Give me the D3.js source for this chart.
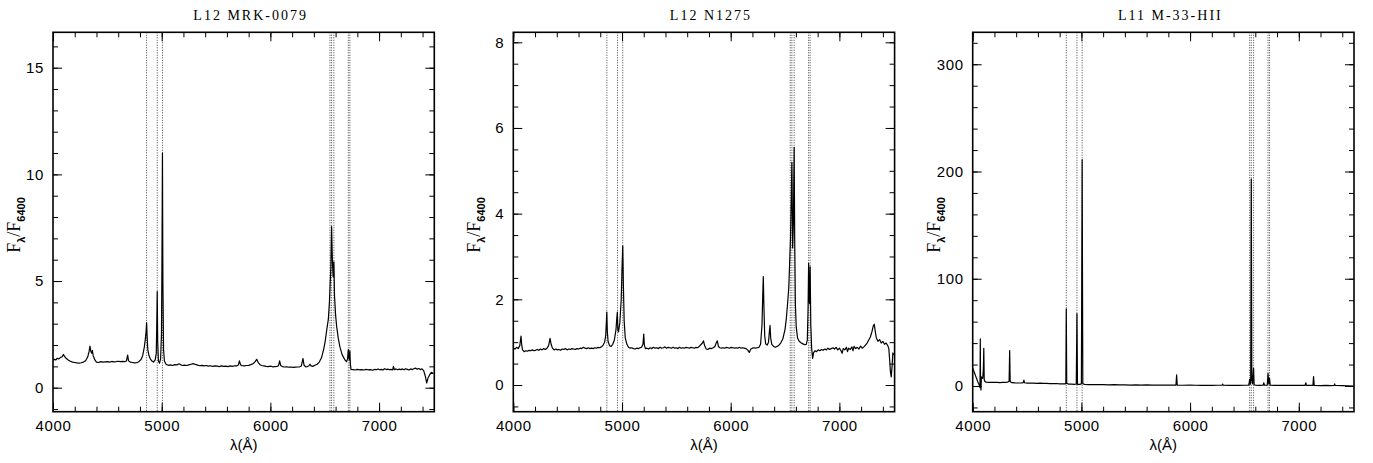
<!DOCTYPE html>
<html>
<head>
<meta charset="utf-8">
<script src="https://cdn.jsdelivr.net/npm/d3@7"></script>
<style>
    body { margin: 0; background: #fff; }
    svg { display: block; }
    .tick text { font-family: "Liberation Sans", Arial, sans-serif; font-size: 15px; letter-spacing: 0.6px; fill: #000; }
    .tick line { stroke: #000; stroke-width: 1; }
    .frame { fill: none; stroke: #000; stroke-width: 1.6; }
    .spec { fill: none; stroke: #000; stroke-width: 1.2; stroke-linejoin: round; }
    .lineMark { stroke: #444; stroke-width: 1; stroke-dasharray: 1, 1.5; }
    .title { font-family: "Liberation Serif", serif; font-size: 14px; letter-spacing: 2px; fill: #000; }
    .xlabel { font-family: "Liberation Sans", Arial, sans-serif; font-size: 15px; fill: #000; }
    .ylabel { font-family: "Liberation Serif", serif; font-size: 18px; fill: #000; }
    .ylabel .sub { font-family: "Liberation Sans", Arial, sans-serif; font-size: 11px; font-weight: bold; }
</style>
</head>
<body>
<script>
(function () {

    // panel titles and emission line positions (Angstrom)
    var titles = ["L12 MRK-0079", "L12 N1275", "L11 M-33-HII"];
    var lineWaves = [4861, 4959, 5007, 6548, 6563, 6584, 6717, 6731];

    var xMajorTicks = [4000, 5000, 6000, 7000];
    var yMajorTicks = [[0, 5, 10, 15], [0, 2, 4, 6, 8], [0, 100, 200, 300]];
    var yMinorStep = [1, 0.5, 20];

    // spectra: [wavelength, F_lambda/F_6400]
    var specMrk = [
        [4000,1.29],[4012,1.33],[4025,1.30],[4040,1.38],[4055,1.35],[4070,1.42],[4085,1.45],[4095,1.56],[4105,1.48],
        [4120,1.38],[4140,1.30],[4160,1.24],[4180,1.20],[4200,1.18],[4220,1.16],[4240,1.15],[4260,1.17],[4280,1.20],
        [4300,1.26],[4320,1.45],[4332,1.70],[4340,1.95],[4348,1.70],[4356,1.62],[4362,1.75],[4370,1.50],[4385,1.30],
        [4400,1.20],[4420,1.18],[4440,1.22],[4460,1.20],[4480,1.21],[4500,1.22],[4520,1.20],[4540,1.23],[4560,1.21],
        [4580,1.22],[4600,1.24],[4620,1.22],[4640,1.23],[4660,1.22],[4675,1.25],[4687,1.53],[4695,1.26],[4710,1.20],
        [4730,1.18],[4750,1.16],[4770,1.17],[4790,1.22],[4810,1.32],[4825,1.50],[4840,1.90],[4850,2.30],[4856,2.60],
        [4861,3.04],[4866,2.40],[4872,1.80],[4882,1.52],[4895,1.35],[4910,1.25],[4925,1.20],[4940,1.30],[4950,1.60],
        [4955,3.00],[4959,4.50],[4963,2.20],[4970,1.25],[4980,1.15],[4990,1.35],[4998,2.50],[5003,6.50],[5007,11.0],
        [5011,5.00],[5017,1.80],[5025,1.25],[5040,1.10],[5060,1.05],[5080,1.07],[5100,1.04],[5120,1.08],[5140,1.07],
        [5160,1.12],[5175,1.08],[5190,1.04],[5210,1.06],[5230,1.04],[5250,1.07],[5270,1.10],[5290,1.13],[5310,1.09],
        [5330,1.06],[5350,1.03],[5370,1.05],[5390,1.02],[5410,1.04],[5430,1.01],[5450,1.03],[5470,1.00],[5490,1.02],
        [5510,1.01],[5530,0.99],[5550,1.02],[5570,1.00],[5590,1.01],[5610,0.99],[5630,1.02],[5650,1.00],[5670,1.03],
        [5690,1.02],[5705,1.06],[5715,1.26],[5725,1.08],[5740,1.03],[5760,1.02],[5780,1.04],[5800,1.05],[5820,1.08],
        [5840,1.12],[5860,1.22],[5874,1.33],[5888,1.18],[5905,1.08],[5920,1.04],[5940,1.02],[5960,1.00],[5980,0.99],
        [6000,1.01],[6020,0.98],[6040,0.99],[6060,1.00],[6075,1.03],[6085,1.26],[6095,1.04],[6110,0.99],[6130,0.97],
        [6150,0.98],[6170,0.96],[6190,0.97],[6210,0.95],[6230,0.96],[6250,0.97],[6270,0.98],[6285,1.02],[6300,1.37],
        [6310,1.05],[6325,0.98],[6340,0.99],[6355,1.03],[6365,1.10],[6375,1.02],[6390,1.00],[6410,1.05],[6430,1.10],
        [6450,1.20],[6470,1.40],[6490,1.80],[6505,2.20],[6518,2.70],[6533,3.20],[6543,4.00],[6550,4.90],[6556,5.60],
        [6563,7.55],[6570,6.00],[6577,5.20],[6584,5.90],[6590,4.30],[6600,3.40],[6610,2.85],[6625,2.30],[6640,1.90],
        [6660,1.55],[6686,1.30],[6700,1.22],[6710,1.35],[6717,1.79],[6722,1.40],[6727,1.30],[6731,1.73],[6736,1.10],
        [6742,0.86],[6760,0.85],[6780,0.83],[6800,0.86],[6820,0.84],[6840,0.85],[6860,0.83],[6880,0.86],[6900,0.84],
        [6920,0.85],[6940,0.82],[6960,0.86],[6975,0.84],[6990,0.88],[7005,0.84],[7020,0.86],[7035,0.83],[7050,0.89],
        [7065,0.85],[7080,0.87],[7095,0.84],[7110,0.86],[7125,0.83],[7132,1.00],[7140,0.85],[7155,0.88],[7170,0.84],
        [7185,0.87],[7200,0.85],[7215,0.88],[7230,0.84],[7245,0.89],[7260,0.86],[7275,0.83],[7290,0.88],[7305,0.85],
        [7320,0.89],[7335,0.92],[7350,0.87],[7365,0.90],[7380,0.85],[7395,0.88],[7410,0.80],[7425,0.55],[7438,0.22],
        [7450,0.45],[7465,0.60],[7480,0.72],[7500,0.66]
    ];

    var specN1275 = [
        [4000,0.86],[4015,0.84],[4030,0.88],[4045,0.85],[4060,0.92],[4066,1.05],[4071,1.14],[4077,0.95],[4085,0.82],
        [4100,0.78],[4115,0.80],[4130,0.79],[4145,0.81],[4160,0.80],[4175,0.82],[4190,0.80],[4205,0.81],[4220,0.83],
        [4235,0.81],[4250,0.84],[4265,0.82],[4280,0.85],[4295,0.83],[4310,0.86],[4325,0.92],[4338,1.09],[4348,0.95],
        [4360,0.86],[4375,0.82],[4390,0.84],[4405,0.82],[4420,0.83],[4435,0.81],[4450,0.84],[4465,0.83],[4480,0.85],
        [4495,0.82],[4510,0.84],[4525,0.83],[4540,0.85],[4555,0.84],[4570,0.83],[4585,0.85],[4600,0.84],[4615,0.86],
        [4630,0.85],[4645,0.88],[4660,0.86],[4675,0.85],[4690,0.87],[4705,0.85],[4720,0.86],[4735,0.85],[4750,0.87],
        [4765,0.86],[4780,0.88],[4795,0.87],[4810,0.89],[4825,0.92],[4840,1.00],[4850,1.15],[4856,1.45],[4860,1.70],
        [4865,1.25],[4872,1.02],[4885,0.92],[4900,0.90],[4915,0.95],[4930,1.05],[4945,1.30],[4952,1.55],[4957,1.70],
        [4962,1.30],[4968,1.24],[4980,1.45],[4993,2.00],[5001,2.80],[5007,3.25],[5013,2.30],[5020,1.50],[5030,1.10],
        [5045,0.95],[5060,0.88],[5075,0.86],[5090,0.87],[5105,0.85],[5120,0.84],[5135,0.86],[5150,0.85],[5165,0.87],
        [5180,0.88],[5193,0.95],[5200,1.19],[5206,0.93],[5215,0.85],[5230,0.86],[5245,0.84],[5260,0.87],[5275,0.85],
        [5290,0.88],[5305,0.86],[5320,0.87],[5335,0.85],[5350,0.88],[5365,0.86],[5380,0.87],[5395,0.89],[5410,0.86],
        [5425,0.88],[5440,0.87],[5455,0.86],[5470,0.88],[5485,0.86],[5500,0.87],[5515,0.85],[5530,0.88],[5545,0.86],
        [5560,0.87],[5575,0.86],[5590,0.88],[5605,0.87],[5620,0.86],[5635,0.88],[5650,0.87],[5665,0.86],[5680,0.88],
        [5695,0.87],[5710,0.90],[5725,0.94],[5740,0.98],[5750,1.03],[5760,0.92],[5775,0.84],[5790,0.83],[5805,0.86],
        [5820,0.85],[5840,0.87],[5855,0.90],[5868,0.99],[5877,1.03],[5887,0.90],[5900,0.87],[5915,0.86],[5930,0.87],
        [5945,0.86],[5960,0.88],[5975,0.87],[5990,0.86],[6005,0.88],[6020,0.87],[6035,0.86],[6050,0.87],[6065,0.86],
        [6080,0.88],[6095,0.86],[6110,0.87],[6125,0.86],[6140,0.85],[6155,0.82],[6171,0.76],[6185,0.84],[6200,0.86],
        [6215,0.87],[6230,0.86],[6245,0.87],[6260,0.88],[6275,0.95],[6288,1.40],[6295,2.10],[6300,2.53],[6306,1.80],
        [6313,1.15],[6322,0.96],[6335,0.93],[6348,1.00],[6356,1.25],[6362,1.39],[6368,1.10],[6378,0.95],[6395,0.90],
        [6410,0.88],[6425,0.90],[6440,0.92],[6460,0.98],[6480,1.08],[6500,1.30],[6512,1.55],[6525,1.95],[6535,2.30],
        [6543,2.90],[6550,3.40],[6557,4.30],[6563,5.20],[6570,3.20],[6577,3.80],[6584,5.55],[6589,3.40],[6595,1.90],
        [6603,1.35],[6615,1.10],[6630,1.02],[6650,0.98],[6665,0.96],[6680,0.94],[6695,0.95],[6705,1.05],[6712,1.80],
        [6717,2.84],[6722,2.00],[6726,1.90],[6731,2.76],[6737,1.40],[6745,0.85],[6754,0.62],[6762,0.75],[6775,0.80],
        [6790,0.78],[6805,0.82],[6820,0.80],[6835,0.83],[6850,0.81],[6865,0.84],[6880,0.82],[6895,0.86],[6910,0.83],
        [6925,0.85],[6940,0.87],[6955,0.84],[6970,0.88],[6985,0.82],[7000,0.86],[7015,0.80],[7025,0.74],[7035,0.85],
        [7050,0.82],[7065,0.88],[7075,0.78],[7085,0.86],[7100,0.83],[7115,0.89],[7125,0.80],[7135,0.90],[7150,0.85],
        [7165,0.88],[7180,0.84],[7195,0.91],[7210,0.86],[7225,0.89],[7240,0.93],[7255,0.98],[7270,1.05],[7285,1.12],
        [7300,1.25],[7312,1.38],[7321,1.42],[7330,1.25],[7340,1.10],[7355,1.02],[7370,1.06],[7385,0.98],[7400,1.02],
        [7415,0.95],[7430,0.98],[7445,0.92],[7455,0.85],[7462,0.60],[7470,0.30],[7477,0.19],[7485,0.45],[7492,0.75],
        [7500,0.70]
    ];

    var specM33 = [
        [4000,16.5],[4015,12.5],[4030,8.5],[4045,4.5],[4060,0.8],[4067,-1.5],[4070,44.0],[4072,3.0],[4076,-3.8],
        [4080,8.5],[4092,7.0],[4098,15.0],[4102,35.0],[4106,6.0],[4112,4.2],[4125,3.6],[4150,3.4],[4175,3.5],
        [4200,3.3],[4225,3.4],[4250,3.2],[4275,3.3],[4300,3.4],[4320,3.5],[4335,4.5],[4340,33.0],[4345,4.2],
        [4360,3.1],[4390,2.9],[4420,2.8],[4450,2.9],[4465,3.2],[4471,5.5],[4477,3.0],[4500,2.7],[4530,2.6],
        [4560,2.7],[4590,2.5],[4620,2.6],[4650,2.4],[4680,2.5],[4710,2.3],[4740,2.2],[4770,2.3],[4800,2.0],
        [4830,2.1],[4850,1.9],[4857,2.5],[4861,72.0],[4865,2.4],[4880,1.8],[4910,1.7],[4940,1.6],[4953,1.8],
        [4959,67.5],[4964,1.6],[4985,1.5],[5000,2.0],[5007,211.0],[5013,2.2],[5030,1.4],[5060,1.3],[5100,1.4],
        [5150,1.2],[5200,1.3],[5250,1.1],[5300,1.2],[5350,1.0],[5400,1.1],[5450,0.9],[5500,1.0],[5550,0.9],
        [5600,1.0],[5650,0.8],[5700,0.9],[5750,0.8],[5800,0.9],[5850,0.8],[5870,0.9],[5876,10.3],[5882,0.8],
        [5930,0.7],[6000,0.8],[6050,0.7],[6100,0.6],[6150,0.7],[6200,0.6],[6250,0.7],[6295,0.8],[6300,1.8],
        [6306,0.7],[6360,0.6],[6400,0.7],[6450,0.6],[6500,0.7],[6540,0.9],[6548,6.2],[6553,1.5],[6558,5.0],
        [6563,193.0],[6568,6.0],[6575,2.0],[6584,16.5],[6589,1.2],[6600,0.8],[6640,0.6],[6672,0.7],[6678,3.0],
        [6684,0.7],[6710,0.9],[6717,11.8],[6724,2.0],[6731,7.2],[6737,0.7],[6780,0.6],[6850,0.5],[6900,0.6],
        [6950,0.5],[7000,0.5],[7058,0.6],[7065,3.0],[7070,0.5],[7130,0.6],[7136,8.7],[7142,0.5],[7200,0.4],
        [7250,0.5],[7300,0.4],[7325,0.6],[7330,2.0],[7335,0.5],[7400,0.3],[7450,0.2],[7500,0.0]
    ];

    var spectra = [specMrk, specN1275, specM33];

    // layout
    var svgWidth = 1373,
        svgHeight = 463,
        plotLefts = [53, 513.3, 972.7],
        plotTop = 32.3,
        plotWidth = 381.3,
        plotHeight = 379.4,
        majorLen = 9,
        minorLen = 5;

    var yDomains = [[-1.125, 16.66], [-0.623, 8.233], [-23.97, 329.8]];

    var svg = d3.select("body")
        .append("svg")
        .attr("width", svgWidth)
        .attr("height", svgHeight);

    for (var i = 0; i < 3; i++) {
        drawPanel(i);
    }

    function drawPanel(i) {
        var g = svg.append("g")
            .attr("transform", "translate(" + plotLefts[i] + "," + plotTop + ")");

        var x = d3.scaleLinear()
            .domain([4000, 7508])
            .range([0, plotWidth]);

        var y = d3.scaleLinear()
            .domain(yDomains[i])
            .range([plotHeight, 0]);

        var yMinor = d3.range(Math.ceil(yDomains[i][0] / yMinorStep[i]) * yMinorStep[i], yDomains[i][1], yMinorStep[i]);
        var xMinor = d3.range(4000, 7508, 200);

        g.append("clipPath")
            .attr("id", "clip" + i)
            .append("rect")
            .attr("width", plotWidth)
            .attr("height", plotHeight);

        // dotted emission line markers
        g.selectAll(".lineMark")
            .data(lineWaves)
            .enter()
            .append("line")
            .attr("class", "lineMark")
            .attr("x1", function (d) { return x(d); })
            .attr("x2", function (d) { return x(d); })
            .attr("y1", 0)
            .attr("y2", plotHeight);

        var line = d3.line()
            .x(function (d) { return x(d[0]); })
            .y(function (d) { return y(d[1]); });

        g.append("path")
            .datum(spectra[i])
            .attr("class", "spec")
            .attr("clip-path", "url(#clip" + i + ")")
            .attr("d", line);

        // minor ticks, all four sides, pointing inward
        g.append("g").attr("transform", "translate(0," + plotHeight + ")")
            .call(d3.axisBottom(x).tickValues(xMinor).tickSize(-minorLen).tickFormat(""));
        g.append("g")
            .call(d3.axisTop(x).tickValues(xMinor).tickSize(-minorLen).tickFormat(""));
        g.append("g")
            .call(d3.axisLeft(y).tickValues(yMinor).tickSize(-minorLen).tickFormat(""));
        g.append("g").attr("transform", "translate(" + plotWidth + ",0)")
            .call(d3.axisRight(y).tickValues(yMinor).tickSize(-minorLen).tickFormat(""));

        // major ticks with labels on bottom and left
        g.append("g").attr("transform", "translate(0," + plotHeight + ")")
            .call(d3.axisBottom(x).tickValues(xMajorTicks).tickSize(-majorLen).tickPadding(9).tickFormat(d3.format("d")));
        g.append("g")
            .call(d3.axisTop(x).tickValues(xMajorTicks).tickSize(-majorLen).tickFormat(""));
        g.append("g")
            .call(d3.axisLeft(y).tickValues(yMajorTicks[i]).tickSize(-majorLen).tickPadding(9).tickFormat(d3.format("d")));
        g.append("g").attr("transform", "translate(" + plotWidth + ",0)")
            .call(d3.axisRight(y).tickValues(yMajorTicks[i]).tickSize(-majorLen).tickFormat(""));

        g.selectAll(".domain").remove();

        g.append("rect")
            .attr("class", "frame")
            .attr("width", plotWidth)
            .attr("height", plotHeight);

        g.append("text")
            .attr("class", "title")
            .attr("x", plotWidth / 2 + 7)
            .attr("y", 19.5 - plotTop)
            .attr("text-anchor", "middle")
            .text(titles[i]);

        g.append("text")
            .attr("class", "xlabel")
            .attr("x", plotWidth / 2)
            .attr("y", 450 - plotTop)
            .attr("text-anchor", "middle")
            .text("λ(Å)");

        var lab = g.append("text")
            .attr("class", "ylabel")
            .attr("text-anchor", "middle")
            .attr("transform", "translate(-33," + (plotHeight / 2 + 3) + ") rotate(-90)");
        lab.append("tspan").text("F");
        lab.append("tspan").attr("class", "sub").attr("dy", 5).text("λ");
        lab.append("tspan").attr("dy", -5).text("/F");
        lab.append("tspan").attr("class", "sub").attr("dy", 5).text("6400");
    }

})();
</script>
</body>
</html>
